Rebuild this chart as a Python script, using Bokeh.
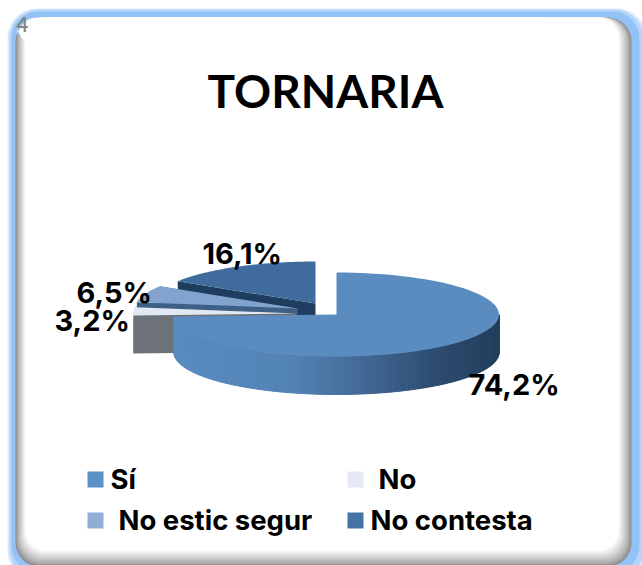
import numpy as np
from bokeh.plotting import figure
from bokeh.models import Range1d
from bokeh.core.properties import value
from bokeh.embed import file_html
from bokeh.resources import INLINE

title = "TORNARIA"
categories = ["Sí", "No", "No estic segur", "No contesta"]
shares = [74.2, 3.2, 6.5, 16.1]
share_labels = ["74,2%", "3,2%", "6,5%", "16,1%"]

COL_TOP = ["#5a8cbf", "#dfe8f3", "#83a3cf", "#3f6c9d"]
COL_SWATCH = ["#5b92c8", "#e3eaf4", "#90add4", "#4573a5"]
COL_CUT = ["#5a8cbf", "#6d7278", "#3e5f86", "#1f3d5f"]
# apex of every slice on screen (exploded slices are shifted left)
APEX = [(336, 314), (295, 313), (297, 308), (315, 303)]
A, B, DEPTH = 162.5, 42.0, 38.0
LABEL_XY = [(468, 395), (54, 331), (76, 303), (202, 264)]
LEGEND_SW = [(87, 471), (347, 471), (87, 512), (347, 512)]
LEGEND_TX = [(110, 489), (378, 489), (118, 530), (370, 530)]
FONT = "Lato"
LABEL_FONT = "Inter"
BASE_SHIFT = 0.38  # baseline correction, fraction of font size


def by(y, size):
    return [y - BASE_SHIFT * size]


p = figure(width=642, height=565, output_backend="svg", toolbar_location=None,
           x_range=Range1d(0, 642), y_range=Range1d(565, 0),
           x_axis_location=None, y_axis_location=None, min_border=0,
           outline_line_color=None, background_fill_color="white")
p.grid.visible = False


def rounded(l, t, r, b, rad, n=12):
    xs, ys = [], []
    for cx, cy, a0 in [(r - rad, t + rad, -90), (r - rad, b - rad, 0),
                       (l + rad, b - rad, 90), (l + rad, t + rad, 180)]:
        th = np.radians(np.linspace(a0, a0 + 90, n))
        xs += list(cx + rad * np.cos(th))
        ys += list(cy + rad * np.sin(th))
    return xs, ys


def mix(c0, c1, t):
    a = [int(c0[i:i + 2], 16) for i in (1, 3, 5)]
    b = [int(c1[i:i + 2], 16) for i in (1, 3, 5)]
    return "#%02x%02x%02x" % tuple(int(round(u + (v - u) * t)) for u, v in zip(a, b))


# ---- frame: blue glow, grey inner shadow, white card
frame = [((7, 8, 646, 580), 30, "#d8e9fb"), ((9, 9, 643, 578), 29, "#b4d5f8"),
         ((11, 11, 639, 572), 27, "#93c3f6"), ((13, 13, 634, 570), 26, "#93c3f6")]
for (rect, rad, col) in frame:
    x, y = rounded(*rect, rad)
    p.patch(x, y, fill_color=col, line_color=None)
steps = 14
for i in range(steps):
    t = i / (steps - 1)
    rect = (15 + 10 * t, 17, 631 - 13 * t, 566 - 16 * t)
    col = mix("#8c8c8c", "#ffffff", t ** 0.8)
    x, y = rounded(*rect, 24 - 4 * t)
    p.patch(x, y, fill_color=col, line_color=None)
# white top area hides the left shadow near the top
x, y = rounded(17, 17, 560, 45, 20)
p.patch(x, y, fill_color="white", line_color=None)

p.text([16], by(32, 20), text=["4"], text_color="#858585", text_font=value(FONT),
       text_font_size="20px", text_font_style="bold", text_baseline="alphabetic")

# ---- pie geometry from shares
fr = np.array(shares) / sum(shares) * 360.0
ends = np.cumsum(fr)
starts = ends - fr


def ell(apex, deg):
    th = np.radians(deg)
    return apex[0] + A * np.sin(th), apex[1] - B * np.cos(th)


def lerp_side(xv):
    stops_x = [172, 290, 350, 433, 497]
    stops_c = ["#5a8cc0", "#5283b5", "#466e9c", "#2e4c70", "#233e5c"]
    for i in range(len(stops_x) - 1):
        if xv <= stops_x[i + 1]:
            return mix(stops_c[i], stops_c[i + 1],
                       max(0, (xv - stops_x[i]) / (stops_x[i + 1] - stops_x[i])))
    return stops_c[-1]


for i in [3, 2, 1, 0]:
    ap, s, e = APEX[i], starts[i], ends[i]
    if i > 0:
        for deg in (s, e):
            ox, oy = ell(ap, deg)
            p.patch([ap[0], ox, ox, ap[0]], [ap[1], oy, oy + DEPTH, ap[1] + DEPTH],
                    fill_color=COL_CUT[i], line_color=None)
    else:
        deg = np.append(np.arange(max(s, 90), e, 1.0), e)
        for d0, d1 in zip(deg[:-1], deg[1:]):
            x0, y0 = ell(ap, d0)
            x1, y1 = ell(ap, d1)
            c = lerp_side((x0 + x1) / 2)
            p.patch([x0, x1, x1, x0], [y0, y1, y1 + DEPTH, y0 + DEPTH],
                    fill_color=c, line_color=c, line_width=1)
    deg = np.linspace(s, e, 90)
    ex, ey = ell(ap, deg)
    p.patch([ap[0]] + list(ex), [ap[1]] + list(ey), fill_color=COL_TOP[i], line_color=None)

# ---- title, labels, legend
p.text([325], by(107, 46), text=[title], text_color="black", text_font=value(FONT),
       text_font_size="46px", text_font_style="bold", text_align="center",
       text_baseline="alphabetic")
for (lx, ly), s in zip(LABEL_XY, share_labels):
    p.text([lx], by(ly, 29), text=[s], text_color="black", text_font=value(LABEL_FONT),
           text_font_size="29px", text_font_style="bold", text_baseline="alphabetic")
for (sx, sy), c in zip(LEGEND_SW, COL_SWATCH):
    p.quad(left=[sx], right=[sx + 16], top=[sy], bottom=[sy + 16], fill_color=c, line_color=None)
for (tx, ty), s in zip(LEGEND_TX, categories):
    p.text([tx], by(ty, 27.5), text=[s], text_color="black", text_font=value(LABEL_FONT),
           text_font_size="27.5px", text_font_style="bold", text_baseline="alphabetic")

open("out.html", "w").write(file_html(p, INLINE))
